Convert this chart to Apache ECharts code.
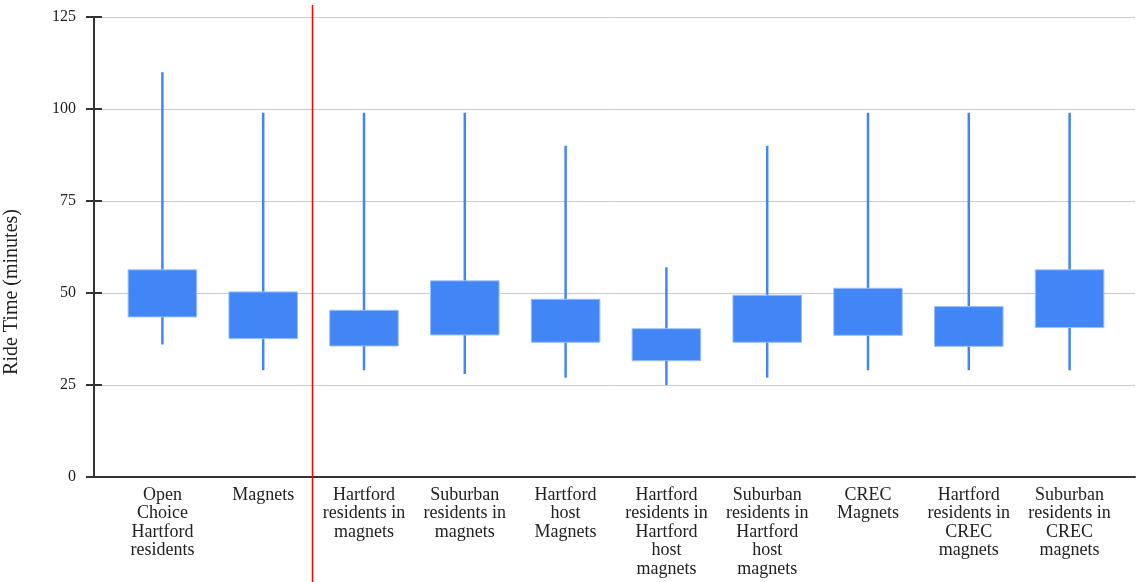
<!DOCTYPE html>
<html>
<head>
<meta charset="utf-8">
<script src="https://cdn.jsdelivr.net/npm/echarts@6/dist/echarts.min.js"></script>
<style>
  html, body { margin: 0; padding: 0; background: #fff; }
  #main { width: 1138px; height: 582px; }
</style>
</head>
<body>
<div id="main"></div>
<script>
// categories (line breaks as in the original labels)
var categories = [
    'Open\nChoice\nHartford\nresidents',
    'Magnets',
    'Hartford\nresidents in\nmagnets',
    'Suburban\nresidents in\nmagnets',
    'Hartford\nhost\nMagnets',
    'Hartford\nresidents in\nHartford\nhost\nmagnets',
    'Suburban\nresidents in\nHartford\nhost\nmagnets',
    'CREC\nMagnets',
    'Hartford\nresidents in\nCREC\nmagnets',
    'Suburban\nresidents in\nCREC\nmagnets'
];
// ride times, minutes
var lowValues  = [36, 29, 29, 28, 27, 25, 27, 29, 29, 29];
var boxBottom  = [43.5, 37.6, 35.6, 38.6, 36.6, 31.6, 36.6, 38.5, 35.5, 40.6];
var boxTop     = [56.3, 50.3, 45.3, 53.3, 48.3, 40.3, 49.4, 51.3, 46.3, 56.3];
var highValues = [110, 99, 99, 99, 90, 57, 90, 99, 99, 99];
var yTicks = [0, 25, 50, 75, 100, 125];

var FONT = '"Liberation Serif", "Times New Roman", serif';
var BLUE = '#4285f4';

var boxData = categories.map(function (c, i) {
    return [i, lowValues[i], boxBottom[i], boxTop[i], highValues[i]];
});

var myChart = echarts.init(document.getElementById('main'));

var option = {
    animation: false,
    grid: [
        // frame grid: axis line, ticks, gridlines
        { left: 94, right: 3, top: 17, bottom: 105 },
        // data grid: where the categories sit
        { left: 112, right: 18, top: 17, bottom: 105 }
    ],
    xAxis: [
        {
            gridIndex: 0,
            type: 'value',
            min: 0, max: 1,
            axisLine: { show: true, lineStyle: { color: '#333', width: 2 } },
            axisTick: { show: false },
            axisLabel: { show: false },
            splitLine: { show: false }
        },
        {
            gridIndex: 1,
            type: 'category',
            data: categories,
            axisLine: { show: false },
            axisTick: { show: false },
            axisLabel: {
                interval: 0,
                margin: 9,
                color: '#222',
                fontFamily: FONT,
                fontSize: 18,
                lineHeight: 18.5
            }
        }
    ],
    yAxis: [
        {
            gridIndex: 0,
            type: 'value',
            min: yTicks[0],
            max: yTicks[yTicks.length - 1],
            interval: 25,
            axisLine: { show: true, lineStyle: { color: '#333', width: 2 } },
            axisTick: { show: true, length: 8, lineStyle: { color: '#333', width: 2 } },
            axisLabel: { margin: 18, color: '#222', fontFamily: FONT, fontSize: 16 },
            splitLine: { show: true, lineStyle: { color: '#cccccc', width: 1 } }
        },
        {
            // inner half of the crossing ticks
            gridIndex: 0,
            type: 'value',
            position: 'left',
            min: yTicks[0],
            max: yTicks[yTicks.length - 1],
            interval: 25,
            axisLine: { show: false },
            axisTick: { show: true, inside: true, length: 8, lineStyle: { color: '#333', width: 2 } },
            axisLabel: { show: false },
            splitLine: { show: false }
        },
        {
            gridIndex: 1,
            type: 'value',
            min: yTicks[0],
            max: yTicks[yTicks.length - 1],
            show: false
        }
    ],
    series: [{
        type: 'custom',
        xAxisIndex: 1,
        yAxisIndex: 2,
        data: boxData,
        encode: { x: 0, y: [1, 2, 3, 4] },
        renderItem: function (params, api) {
            var idx = api.value(0);
            var low = api.coord([idx, api.value(1)]);
            var q1 = api.coord([idx, api.value(2)]);
            var q3 = api.coord([idx, api.value(3)]);
            var high = api.coord([idx, api.value(4)]);
            var w = api.size([1, 0])[0] * 0.68;
            return {
                type: 'group',
                children: [
                    {
                        type: 'line',
                        shape: { x1: low[0], y1: low[1], x2: high[0], y2: high[1] },
                        style: { stroke: BLUE, lineWidth: 2.5 }
                    },
                    {
                        type: 'rect',
                        shape: { x: q3[0] - w / 2, y: q3[1], width: w, height: q1[1] - q3[1] },
                        style: { fill: BLUE, stroke: '#9cc0fa', lineWidth: 1 }
                    }
                ]
            };
        }
    }]
};

myChart.setOption(option);

// red separator between the first two groups and the rest
var c1 = myChart.convertToPixel({ xAxisIndex: 1 }, 1);
var c2 = myChart.convertToPixel({ xAxisIndex: 1 }, 2);
var sepX = Math.round((c1 + c2) / 2) - 1.5;

myChart.setOption({
    graphic: [
        {
            type: 'line',
            shape: { x1: sepX, y1: 5, x2: sepX, y2: 582 },
            style: { stroke: '#ff0000', lineWidth: 1.5 },
            z: 100
        },
        {
            type: 'text',
            x: 12,
            y: 292,
            rotation: Math.PI / 2,
            style: {
                text: 'Ride Time (minutes)',
                fill: '#222',
                font: '20px ' + FONT,
                align: 'center',
                verticalAlign: 'middle'
            }
        }
    ]
});
</script>
</body>
</html>
